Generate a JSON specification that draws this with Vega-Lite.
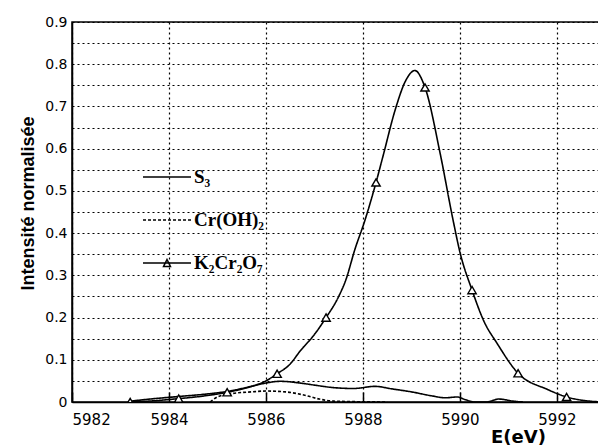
{
  "$schema": "https://vega.github.io/schema/vega-lite/v6.json",
  "width": 530,
  "height": 380,
  "autosize": {"type": "none"},
  "padding": {"left": 72, "top": 22, "right": 0, "bottom": 46},
  "background": "white",
  "config": {
    "view": {"stroke": "black", "strokeWidth": 1.5},
    "axis": {"labelColor": "black", "domainColor": "black", "domainWidth": 1.5, "gridColor": "black", "gridDash": [2, 3], "gridWidth": 1.2, "gridOpacity": 1, "titleColor": "black"}
  },
  "datasets": {
    "curves": [
      {"series": "S₃", "E": 5983.2, "I": 0.002},
      {"series": "S₃", "E": 5983.7, "I": 0.008},
      {"series": "S₃", "E": 5984.2, "I": 0.013},
      {"series": "S₃", "E": 5984.7, "I": 0.018},
      {"series": "S₃", "E": 5985.2, "I": 0.025},
      {"series": "S₃", "E": 5985.7, "I": 0.037},
      {"series": "S₃", "E": 5986.0, "I": 0.045},
      {"series": "S₃", "E": 5986.3, "I": 0.049},
      {"series": "S₃", "E": 5986.7, "I": 0.045},
      {"series": "S₃", "E": 5987.0, "I": 0.04},
      {"series": "S₃", "E": 5987.4, "I": 0.034},
      {"series": "S₃", "E": 5987.8, "I": 0.032},
      {"series": "S₃", "E": 5988.25, "I": 0.037},
      {"series": "S₃", "E": 5988.6, "I": 0.031},
      {"series": "S₃", "E": 5989.0, "I": 0.024},
      {"series": "S₃", "E": 5989.4, "I": 0.015},
      {"series": "S₃", "E": 5989.7, "I": 0.01},
      {"series": "S₃", "E": 5989.95, "I": 0.012},
      {"series": "S₃", "E": 5990.1, "I": 0.006},
      {"series": "S₃", "E": 5990.3, "I": 0.0},
      {"series": "S₃", "E": 5990.55, "I": 0.0},
      {"series": "S₃", "E": 5990.8, "I": 0.007},
      {"series": "S₃", "E": 5991.1, "I": 0.002},
      {"series": "S₃", "E": 5991.3, "I": 0.0},
      {"series": "Cr(OH)₂", "E": 5984.85, "I": 0.0},
      {"series": "Cr(OH)₂", "E": 5985.0, "I": 0.012},
      {"series": "Cr(OH)₂", "E": 5985.3, "I": 0.02},
      {"series": "Cr(OH)₂", "E": 5985.7, "I": 0.024},
      {"series": "Cr(OH)₂", "E": 5986.0, "I": 0.026},
      {"series": "Cr(OH)₂", "E": 5986.4, "I": 0.024},
      {"series": "Cr(OH)₂", "E": 5986.8, "I": 0.016},
      {"series": "Cr(OH)₂", "E": 5987.1, "I": 0.007},
      {"series": "Cr(OH)₂", "E": 5987.4, "I": 0.002},
      {"series": "Cr(OH)₂", "E": 5988.5, "I": 0.0},
      {"series": "K₂Cr₂O₇", "E": 5983.2, "I": 0.0},
      {"series": "K₂Cr₂O₇", "E": 5983.7, "I": 0.003},
      {"series": "K₂Cr₂O₇", "E": 5984.2, "I": 0.008},
      {"series": "K₂Cr₂O₇", "E": 5984.7, "I": 0.014},
      {"series": "K₂Cr₂O₇", "E": 5985.2, "I": 0.023},
      {"series": "K₂Cr₂O₇", "E": 5985.7, "I": 0.037},
      {"series": "K₂Cr₂O₇", "E": 5986.0, "I": 0.05},
      {"series": "K₂Cr₂O₇", "E": 5986.23, "I": 0.067},
      {"series": "K₂Cr₂O₇", "E": 5986.5, "I": 0.09},
      {"series": "K₂Cr₂O₇", "E": 5986.7, "I": 0.12},
      {"series": "K₂Cr₂O₇", "E": 5987.0, "I": 0.16},
      {"series": "K₂Cr₂O₇", "E": 5987.24, "I": 0.2},
      {"series": "K₂Cr₂O₇", "E": 5987.5, "I": 0.25},
      {"series": "K₂Cr₂O₇", "E": 5987.65, "I": 0.29},
      {"series": "K₂Cr₂O₇", "E": 5987.83, "I": 0.36},
      {"series": "K₂Cr₂O₇", "E": 5988.04, "I": 0.43},
      {"series": "K₂Cr₂O₇", "E": 5988.27, "I": 0.52},
      {"series": "K₂Cr₂O₇", "E": 5988.42, "I": 0.585},
      {"series": "K₂Cr₂O₇", "E": 5988.66, "I": 0.69},
      {"series": "K₂Cr₂O₇", "E": 5988.89, "I": 0.763},
      {"series": "K₂Cr₂O₇", "E": 5989.07, "I": 0.785},
      {"series": "K₂Cr₂O₇", "E": 5989.28, "I": 0.745},
      {"series": "K₂Cr₂O₇", "E": 5989.59, "I": 0.59},
      {"series": "K₂Cr₂O₇", "E": 5989.86, "I": 0.43},
      {"series": "K₂Cr₂O₇", "E": 5990.0, "I": 0.355},
      {"series": "K₂Cr₂O₇", "E": 5990.25, "I": 0.265},
      {"series": "K₂Cr₂O₇", "E": 5990.5, "I": 0.19},
      {"series": "K₂Cr₂O₇", "E": 5990.76, "I": 0.14},
      {"series": "K₂Cr₂O₇", "E": 5991.2, "I": 0.068},
      {"series": "K₂Cr₂O₇", "E": 5991.8, "I": 0.03},
      {"series": "K₂Cr₂O₇", "E": 5992.2, "I": 0.012},
      {"series": "K₂Cr₂O₇", "E": 5992.9, "I": 0.0}
    ],
    "markers": [
      {"E": 5983.2, "I": 0.0},
      {"E": 5984.2, "I": 0.008},
      {"E": 5985.2, "I": 0.023},
      {"E": 5986.23, "I": 0.067},
      {"E": 5987.24, "I": 0.2},
      {"E": 5988.27, "I": 0.52},
      {"E": 5989.28, "I": 0.745},
      {"E": 5990.25, "I": 0.265},
      {"E": 5991.2, "I": 0.068},
      {"E": 5992.2, "I": 0.012}
    ]
  },
  "encoding": {
    "x": {
      "field": "E", "type": "quantitative",
      "scale": {"domain": [5982, 5992.93], "nice": false, "zero": false},
      "axis": {
        "values": [5982, 5984, 5986, 5988, 5990, 5992],
        "format": "d",
        "grid": true,
        "ticks": true, "tickSize": -10, "tickColor": "black", "tickWidth": 1.5,
        "labelFont": "DejaVu Sans", "labelFontSize": 15, "labelPadding": 20,
        "title": "E(eV)", "titleFont": "DejaVu Sans", "titleFontSize": 18, "titleFontWeight": "bold",
        "titleX": 446, "titleY": 26, "titleAlign": "center", "titleBaseline": "top"
      }
    },
    "y": {
      "field": "I", "type": "quantitative",
      "scale": {"domain": [0, 0.9], "nice": false},
      "axis": {
        "values": [0, 0.05, 0.1, 0.15, 0.2, 0.25, 0.3, 0.35, 0.4, 0.45, 0.5, 0.55, 0.6, 0.65, 0.7, 0.75, 0.8, 0.85, 0.9],
        "labelExpr": "round(datum.value*20) % 2 == 1 ? '' : (datum.value == 0 ? '0' : format(datum.value, '.1f'))",
        "grid": true, "ticks": false,
        "labelFont": "DejaVu Sans", "labelFontSize": 14, "labelPadding": 5,
        "title": "Intensité normalisée", "titleFont": "Liberation Sans", "titleFontSize": 18, "titleFontWeight": "bold",
        "titleX": -39, "titleY": 181, "titleAngle": -90, "titleAlign": "center", "titleBaseline": "alphabetic"
      }
    }
  },
  "layer": [
    {
      "data": {"name": "curves"},
      "mark": {"type": "line", "color": "black", "strokeWidth": 1.6, "interpolate": "monotone", "clip": true},
      "encoding": {
        "detail": {"field": "series"},
        "strokeDash": {
          "field": "series", "type": "nominal",
          "scale": {"domain": ["S₃", "Cr(OH)₂", "K₂Cr₂O₇"], "range": [[1, 0], [3, 2], [1, 0]]},
          "legend": {
            "orient": "none", "legendX": 82, "legendY": 142, "title": null, "padding": 0,
            "symbolSize": 576, "symbolStrokeWidth": 1.5, "symbolStrokeColor": "black",
            "rowPadding": 20, "labelOffset": 14,
            "labelFont": "Liberation Serif", "labelFontSize": 19, "labelFontWeight": "bold", "labelColor": "black", "labelBaseline": "middle",
            "encode": {
              "symbols": {
                "update": {
                  "shape": {"signal": "datum.value === 'K₂Cr₂O₇' ? 'M-2,0H2M-0.29,0.29L0,-0.29L0.29,0.29Z' : 'M-2,0H2'"},
                  "fill": {"value": "white"},
                  "stroke": {"value": "black"},
                  "strokeWidth": {"value": 1.5}
                }
              }
            }
          }
        }
      }
    },
    {
      "data": {"name": "markers"},
      "mark": {"type": "point", "shape": "triangle-up", "size": 70, "filled": false, "fill": "white", "fillOpacity": 1, "stroke": "black", "strokeWidth": 1.4, "opacity": 1, "clip": true}
    }
  ]
}
